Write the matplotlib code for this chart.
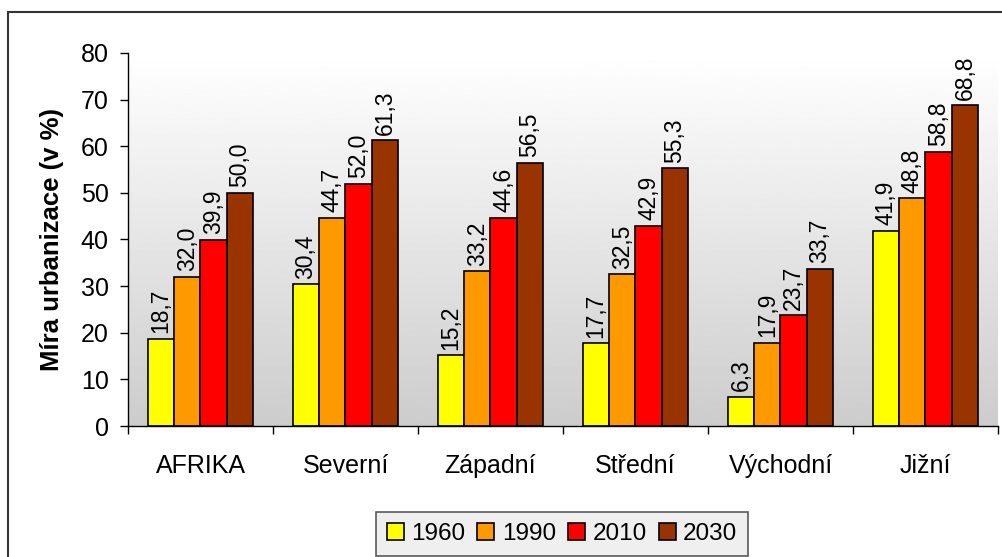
import numpy as np
import matplotlib.pyplot as plt
from matplotlib.patches import Rectangle

plt.rcParams['font.family'] = ['Liberation Sans', 'DejaVu Sans']

regions = ['AFRIKA', 'Severní', 'Západní', 'Střední', 'Východní', 'Jižní']
years = ['1960', '1990', '2010', '2030']
v1960 = [18.7, 30.4, 15.2, 17.7, 6.3, 41.9]
v1990 = [32.0, 44.7, 33.2, 32.5, 17.9, 48.8]
v2010 = [39.9, 52.0, 44.6, 42.9, 23.7, 58.8]
v2030 = [50.0, 61.3, 56.5, 55.3, 33.7, 68.8]
colors = ['#FFFF00', '#FF9900', '#FF0000', '#993300']

fig = plt.figure(figsize=(10.02, 5.57), dpi=100)
ax = fig.add_axes([128/1002, 1-426/557, 870/1002, 373/557])

# outer frame of the chart
fig.patches.append(Rectangle((8/1002, -0.1), 1.1, (557-12)/557 + 0.1,
                             transform=fig.transFigure, fill=False,
                             edgecolor='#333333', linewidth=1.5))

# gradient plot background
grad = np.linspace(1.0, 0.80, 256).reshape(-1, 1)
ax.imshow(grad, cmap='gray', vmin=0, vmax=1, aspect='auto',
          extent=[0, 1, 0, 1], transform=ax.transAxes, zorder=0)

x = np.arange(len(regions))
w = 0.182
series = [v1960, v1990, v2010, v2030]
for i, vals in enumerate(series):
    pos = x + (i - 1.5) * w
    ax.bar(pos, vals, width=w, color=colors[i], edgecolor='black',
           linewidth=1.2, label=years[i], zorder=2)
    for p, v in zip(pos, vals):
        ax.annotate(f'{v:.1f}'.replace('.', ','), (p, v), xytext=(0, 4),
                    textcoords='offset points', rotation=90,
                    ha='center', va='bottom', fontsize=16.5)

ax.set_xlim(-0.5, len(regions) - 0.5)
ax.set_ylim(0, 80)
ax.set_yticks(range(0, 81, 10))
ax.tick_params(axis='y', labelsize=18, length=6, width=1, pad=8)
ax.set_xticks(x)
ax.set_xticklabels(regions, fontsize=18)
ax.tick_params(axis='x', which='major', length=0, pad=20)
ax.set_xticks(np.arange(-0.5, len(regions)), minor=True)
ax.tick_params(axis='x', which='minor', length=6, width=1)

ax.spines['top'].set_visible(False)
ax.spines['right'].set_visible(False)
ax.spines['left'].set_linewidth(1)
ax.spines['bottom'].set_linewidth(1)

ax.set_ylabel('Míra urbanizace (v %)', fontsize=18.5, fontweight='bold', labelpad=12)

leg = fig.legend(loc='lower center', bbox_to_anchor=(562/1002, 1/557), ncol=4,
                 fontsize=17.5, frameon=True, fancybox=False, handlelength=0.7,
                 handleheight=0.7, handletextpad=0.3, columnspacing=0.5,
                 borderpad=0.45, borderaxespad=0)
leg.get_frame().set_edgecolor('#333333')
leg.get_frame().set_facecolor('#ececec')
leg.get_frame().set_linewidth(1.2)

fig.savefig('out.png', dpi=100)
